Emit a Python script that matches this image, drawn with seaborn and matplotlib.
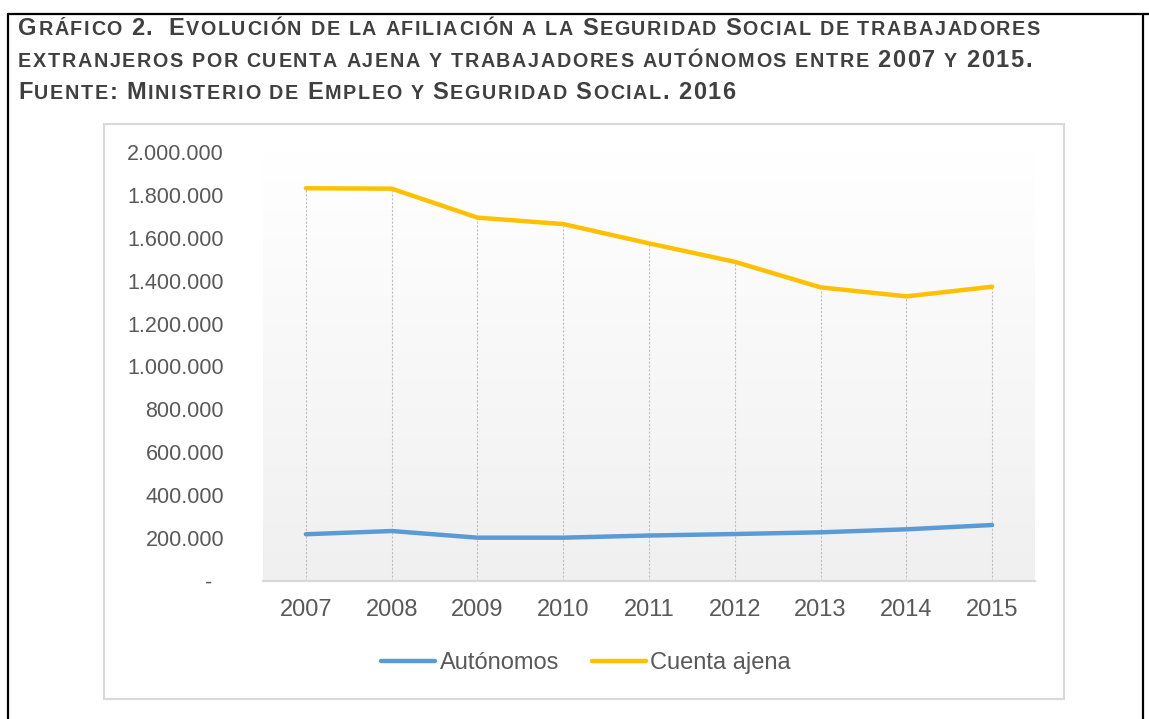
import numpy as np
import pandas as pd
import seaborn as sns
import matplotlib.pyplot as plt
from matplotlib.lines import Line2D
from matplotlib.patches import Rectangle
from matplotlib.colors import LinearSegmentedColormap
from matplotlib.ticker import FuncFormatter, MultipleLocator

# Datos
years = [2007, 2008, 2009, 2010, 2011, 2012, 2013, 2014, 2015]
autonomos = [218000, 233000, 202000, 202000, 212000, 219000, 227000, 241000, 261000]
cuenta_ajena = [1831000, 1829000, 1694000, 1664000, 1574000, 1488000, 1369000, 1327000, 1372000]
series_names = ["Autónomos", "Cuenta ajena"]
colors = ["#5B9BD5", "#FFC000"]

# minúsculas = versalitas
title_lines = [
    "Gráfico 2.  Evolución de la afiliación a la Seguridad Social de trabajadores",
    "extranjeros por cuenta ajena y trabajadores autónomos entre 2007 y 2015.",
    "Fuente: Ministerio de Empleo y Seguridad Social. 2016",
]

df = pd.DataFrame({"Año": years, series_names[0]: autonomos, series_names[1]: cuenta_ajena})
df_long = df.melt(id_vars="Año", var_name="Serie", value_name="Afiliados")

sns.set_theme(style="white")
plt.rcParams['font.family'] = ['Liberation Sans', 'DejaVu Sans']

W, H = 1149, 719
fig = plt.figure(figsize=(W / 100, H / 100), dpi=100)
ax = fig.add_axes([263 / W, 1 - 581 / H, (1035 - 263) / W, (581 - 152) / H])

# fondo degradado del área de trazado
grad = np.linspace(0, 1, 256).reshape(-1, 1)
cmap = LinearSegmentedColormap.from_list("fondo", ["#f0f0f0", "#ffffff"])
ax.imshow(grad, extent=[0, 1, 0, 1], transform=ax.transAxes, cmap=cmap,
          aspect='auto', origin='lower', zorder=0)

# líneas de proyección
ax.vlines(years, 0, cuenta_ajena, colors='#c0c0c0', linestyles=(0, (2, 1.5)), lw=0.8, zorder=1)

sns.lineplot(data=df_long, x="Año", y="Afiliados", hue="Serie", palette=colors,
             lw=3.2, ax=ax, zorder=3, solid_capstyle='round')

ax.set_xlim(2006.5, 2015.5)
ax.set_ylim(0, 2000000)
ax.xaxis.set_major_locator(MultipleLocator(1))
ax.yaxis.set_major_locator(MultipleLocator(200000))
ax.yaxis.set_major_formatter(FuncFormatter(
    lambda v, p: "-  " if v == 0 else f"{int(v):,}".replace(",", ".")))
ax.set_xlabel("")
ax.set_ylabel("")
ax.tick_params(axis='both', length=0, colors='#595959')
ax.tick_params(axis='y', pad=28, labelsize=15.5)
ax.tick_params(axis='x', pad=13, labelsize=17)
for s in ['top', 'right', 'left']:
    ax.spines[s].set_visible(False)
ax.spines['bottom'].set_color('#d9d9d9')
ax.spines['bottom'].set_linewidth(1.6)
ax.grid(False)

sns.move_legend(ax, "center", bbox_to_anchor=(586 / W, 1 - 663 / H),
                bbox_transform=fig.transFigure, ncol=2, frameon=False, title=None,
                fontsize=17, handlelength=2.3, handletextpad=0.18, columnspacing=1.4)
for t in ax.get_legend().get_texts():
    t.set_color('#595959')

# marco del gráfico
fig.add_artist(Rectangle((104 / W, 1 - 699 / H), (1064 - 104) / W, (699 - 124) / H,
                         transform=fig.transFigure, fill=False, ec='#d9d9d9', lw=1.5))

# marco exterior negro
for xs, ys in [([8, 8], [14, H]), ([8, W], [14, 14]), ([1143, 1143], [14, H])]:
    fig.add_artist(Line2D([x / W for x in xs], [1 - y / H for y in ys],
                          transform=fig.transFigure, color='black', lw=1.6))

# título en versalitas (letra a letra, con espaciado)
renderer = fig.canvas.get_renderer()
title_family = ['Liberation Sans', 'DejaVu Sans']
big, small = 17.0, 14.2
_cache = {}


def text_width(s, size):
    key = (s, size)
    if key not in _cache:
        t = fig.text(0, 0, s, fontsize=size, fontweight='bold', family=title_family)
        _cache[key] = t.get_window_extent(renderer).width
        t.remove()
    return _cache[key]


def advance(ch, size):
    return text_width("H" + ch + "H", size) - text_width("HH", size)


def chars_of(line):
    return [(ch.upper(), small if (ch.islower() or ch == " ") else big) for ch in line]


def natural_width(line):
    return sum(advance(c, s) for c, s in chars_of(line))


x_left, x_right = 18, 1040
tracking = ((x_right - x_left) - natural_width(title_lines[0])) / (len(title_lines[0]) - 1)


def small_caps(x0, baseline, line):
    x = x0
    for c, s in chars_of(line):
        if c != " ":
            fig.text(x / W, 1 - baseline / H, c, fontsize=s, fontweight='bold',
                     family=title_family, color='#404040', va='baseline', ha='left')
        x += advance(c, s) + tracking


for line, b in zip(title_lines, [35, 67, 99]):
    small_caps(x_left, b, line)

fig.savefig("out.png", dpi=100)
